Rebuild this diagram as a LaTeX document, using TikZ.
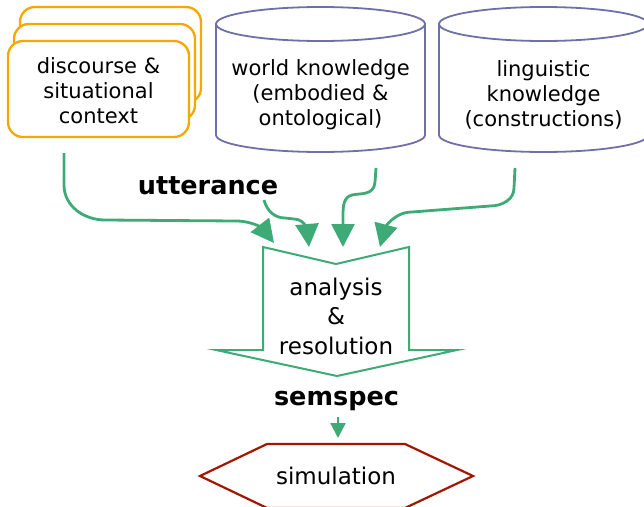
\documentclass[tikz,border=0pt]{standalone}
\usepackage{fontspec}
\setmainfont{DejaVu Sans}
\usetikzlibrary{arrows.meta}
\definecolor{ctxorange}{RGB}{246,168,0}
\definecolor{cylblue}{RGB}{112,112,168}
\definecolor{flowgreen}{RGB}{62,170,118}
\definecolor{simred}{RGB}{160,22,0}
\begin{document}
\begin{tikzpicture}[x=1pt,y=1pt,
  ctxbox/.style={draw=ctxorange, line width=2.3pt, fill=white, rounded corners=15pt,
    minimum width=181pt, minimum height=96pt, inner sep=0pt},
  cylline/.style={draw=cylblue, line width=1.8pt, fill=white},
  toptext/.style={align=center, font=\fontsize{21}{25}\selectfont},
  midtext/.style={align=center, font=\fontsize{23}{29.5}\selectfont},
  boldlabel/.style={font=\fontsize{25.5}{30}\selectfont\bfseries},
  feed/.style={draw=flowgreen, line width=2.8pt, -{Triangle[length=23pt,width=23pt]}},
]
\useasboundingbox (0,0) rectangle (644,-506);

% stacked context cards
\node[ctxbox] (ctxback) at (110.5,-55) {};
\node[ctxbox] (ctxmid) at (104.5,-72) {};
\node[ctxbox, toptext] (context) at (98.5,-89) {};
\node[toptext] (ctxtext) at (98.5,-91) {discourse \&\\situational\\context};

% knowledge stores (cylinders)
\path[cylline] (216,-24) -- (216,-135)
  arc[start angle=180, end angle=360, x radius=104.5, y radius=17] -- (425,-24) -- cycle;
\path[cylline] (320.5,-24) ellipse[x radius=104.5, y radius=17];
\node[toptext] (world) at (320.5,-95) {world knowledge\\(embodied \&\\ontological)};

\path[cylline] (439,-24) -- (439,-135)
  arc[start angle=180, end angle=360, x radius=104.5, y radius=17] -- (648,-24) -- cycle;
\path[cylline] (543.5,-24) ellipse[x radius=104.5, y radius=17];
\node[toptext] (ling) at (543.5,-95) {linguistic\\knowledge\\(constructions)};

% analysis block arrow
\path[draw=flowgreen, line width=2pt, fill=white]
  (263,-247) -- (336,-264) -- (409,-247) -- (409,-350) -- (457,-350)
  -- (337,-376) -- (216,-350) -- (263,-350) -- cycle;
\node[midtext] (analysis) at (336,-316) {analysis\\\&\\resolution};

% labels
\node[boldlabel, anchor=base] (utt) at (208,-194) {utterance};
\node[boldlabel, anchor=base] (semspec) at (336.5,-405) {semspec};

% simulation hexagon
\path[draw=simred, line width=2.2pt, fill=white]
  (200,-476) -- (267,-444) -- (405,-444) -- (473,-476) -- (405,-508) -- (267,-508) -- cycle;
\node[font=\fontsize{23}{28}\selectfont] (sim) at (336,-476) {simulation};

% connector end points
\coordinate (ctxout) at (64,-153);
\coordinate (uttout) at (264,-200);
\coordinate (worldout) at (376,-168);
\coordinate (lingout) at (515,-168);
\coordinate (in1) at (274,-243);
\coordinate (in2) at (309,-247);
\coordinate (in3) at (343,-247);
\coordinate (in4) at (380,-247);
\coordinate (semout) at (338,-417);
\coordinate (simin) at (338,-438);

% feeds into analysis
\draw[feed] (ctxout) -- (64,-185) to[out=-90, in=180] (105,-220) -- (236,-221)
  to[out=0, in=128] (in1);
\draw[feed] (uttout) to[out=-75, in=180] (285,-218) -- (294,-219) to[out=0, in=95] (in2);
\draw[feed] (worldout) -- (375,-182) .. controls (374,-196) and (360,-193) .. (352,-195)
  .. controls (344,-197) and (343,-205) .. (343,-215) -- (in3);
\draw[feed] (lingout) -- (514,-188) to[out=-90, in=0] (490,-206) -- (412,-212)
  to[out=180, in=75] (in4);

\draw[draw=flowgreen, line width=2.2pt, -{Triangle[length=15pt,width=15pt]}] (semout) -- (simin);
\end{tikzpicture}
\end{document}
